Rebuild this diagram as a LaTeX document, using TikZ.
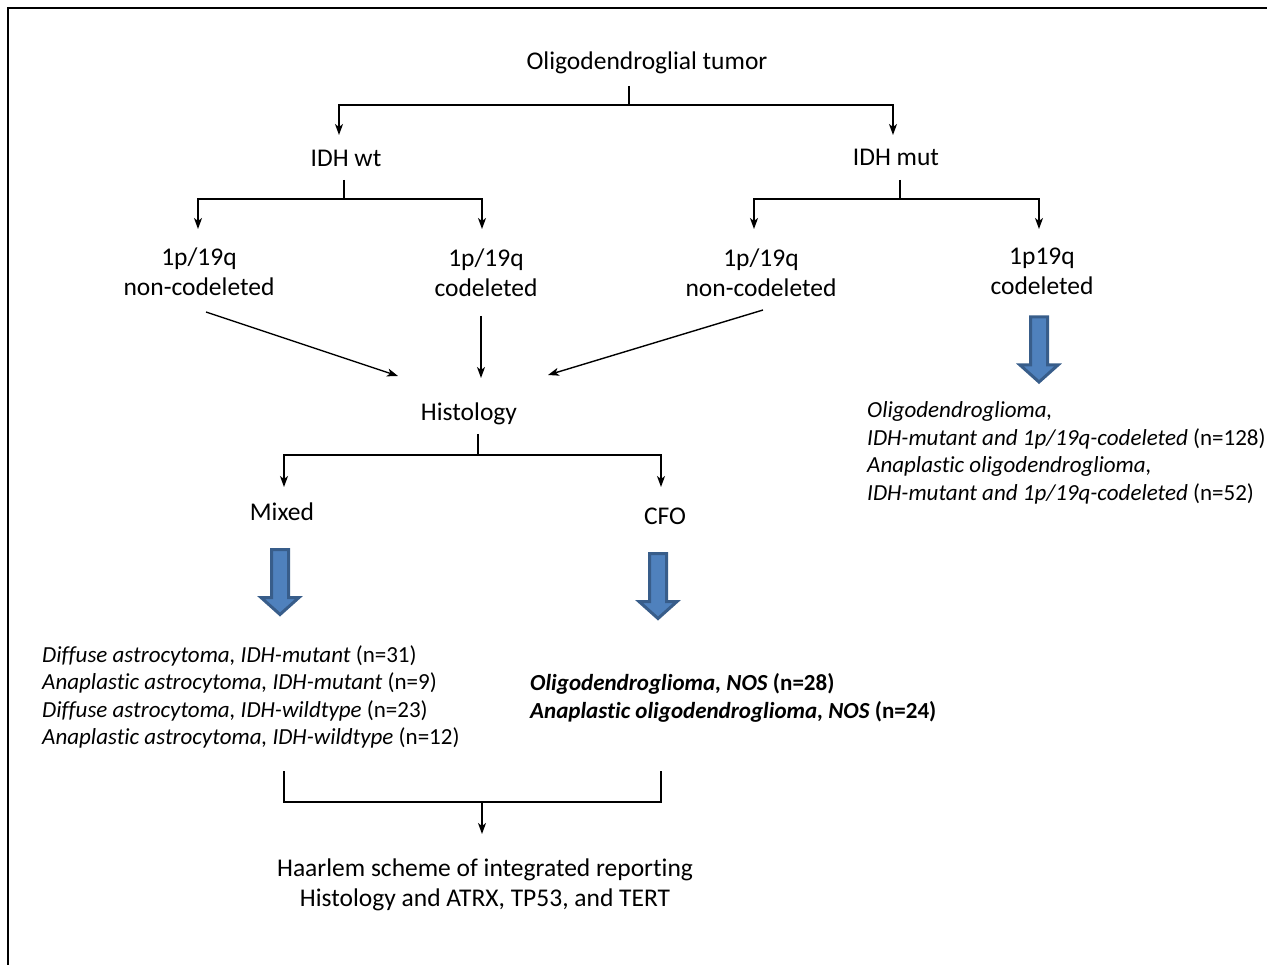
\documentclass[tikz,border=0pt]{standalone}
\usepackage{fontspec}
\setmainfont{Carlito}[Ligatures={NoCommon}]
\usetikzlibrary{arrows.meta}
\definecolor{bluefill}{HTML}{4F81BD}
\definecolor{blueedge}{HTML}{385D8A}
\begin{document}
\begin{tikzpicture}[x=1pt,y=-1pt,
  lbl/.style={font=\fontsize{25.5}{30}\selectfont, align=center, inner sep=0pt},
  lst/.style={font=\fontsize{23}{27.5}\selectfont, align=left, inner sep=0pt, anchor=west},
  ln/.style={line width=1.4pt},
  arr/.style={line width=1.4pt, -{Stealth[length=11pt,width=8pt,inset=3pt]}},
  bigdown/.pic={\draw[line width=3pt, draw=blueedge, fill=bluefill, line join=miter]
     (-8.5,0) -- (8.5,0) -- (8.5,48) -- (19,48) -- (0,65) -- (-19,48) -- (-8.5,48) -- cycle;}
]
\useasboundingbox (0,0) rectangle (1267,965);
\clip (0,0) rectangle (1267,965);
\draw[line width=2.5pt] (8,1000) -- (8,8) -- (1300,8);

% nodes
\node[lbl] (tumor) at (647,63) {Oligodendroglial tumor};
\node[lbl] (wt) at (346,158) {IDH wt};
\node[lbl] (mut) at (896,157) {IDH mut};
\node[lbl] (wtnon) at (199,272) {1p/19q\\non-codeleted};
\node[lbl] (wtco) at (486,273) {1p/19q\\codeleted};
\node[lbl] (mutnon) at (761,273) {1p/19q\\non-codeleted};
\node[lbl] (mutco) at (1042,271) {1p19q\\codeleted};
\node[lbl] (hist) at (469,414) {Histology};
\node[lbl] (mixed) at (282,512) {Mixed};
\node[lbl] (cfo) at (665,516) {CFO};
\node[lbl] (haar) at (485,885) {Haarlem scheme of integrated reporting\\Histology and ATRX, TP53, and TERT};

\node[lst] (mixlist) at (42,697) {\textit{Diffuse astrocytoma, IDH-mutant} (n=31)\\
\textit{Anaplastic astrocytoma, IDH-mutant} (n=9)\\
\textit{Diffuse astrocytoma, IDH-wildtype} (n=23)\\
\textit{Anaplastic astrocytoma, IDH-wildtype} (n=12)};
\node[lst, font=\fontsize{23}{27.5}\selectfont\bfseries] (cfolist) at (530,698) {\textit{Oligodendroglioma, NOS} (n=28)\\
\textit{Anaplastic oligodendroglioma, NOS} (n=24)};
\node[lst] (colist) at (867,453) {\textit{Oligodendroglioma,}\\
\textit{IDH-mutant and 1p/19q-codeleted} (n=128)\\
\textit{Anaplastic oligodendroglioma,}\\
\textit{IDH-mutant and 1p/19q-codeleted} (n=52)};

% junction coordinates
\coordinate (tS) at (629,86);   \coordinate (tJ) at (629,105);
\coordinate (wtIn) at (339,135); \coordinate (mutIn) at (893,135);
\coordinate (wS) at (344,180);  \coordinate (wJ) at (344,199);
\coordinate (mS) at (900,180);  \coordinate (mJ) at (900,199);
\coordinate (wnIn) at (198,229); \coordinate (wcIn) at (482,229);
\coordinate (mnIn) at (754,229); \coordinate (mcIn) at (1039,229);
\coordinate (wnOut) at (206,312); \coordinate (wcOut) at (481,316); \coordinate (mnOut) at (763,310);
\coordinate (hIn1) at (398,376); \coordinate (hIn2) at (481,378); \coordinate (hIn3) at (548,375);
\coordinate (hS) at (478,434);  \coordinate (hJ) at (478,455);
\coordinate (mxIn) at (284,487); \coordinate (cfIn) at (661,487);
\coordinate (bL) at (284,771); \coordinate (bR) at (661,771);
\coordinate (bM) at (482,802); \coordinate (haarIn) at (482,834);

% connectors
\draw[ln] (tS) -- (tJ);
\draw[arr] (tJ) -| (wtIn);
\draw[arr] (tJ) -| (mutIn);
\draw[ln] (wS) -- (wJ);
\draw[arr] (wJ) -| (wnIn);
\draw[arr] (wJ) -| (wcIn);
\draw[ln] (mS) -- (mJ);
\draw[arr] (mJ) -| (mnIn);
\draw[arr] (mJ) -| (mcIn);
\draw[arr] (wnOut) -- (hIn1);
\draw[arr] (wcOut) -- (hIn2);
\draw[arr] (mnOut) -- (hIn3);
\draw[ln] (hS) -- (hJ);
\draw[arr] (hJ) -| (mxIn);
\draw[arr] (hJ) -| (cfIn);
\draw[ln] (bL) |- (bM) -| (bR);
\draw[arr] (bM) -- (haarIn);

% block arrows
\pic at (280,549.5) {bigdown};
\pic at (658,553.5) {bigdown};
\pic at (1039,317) {bigdown};
\end{tikzpicture}
\end{document}
